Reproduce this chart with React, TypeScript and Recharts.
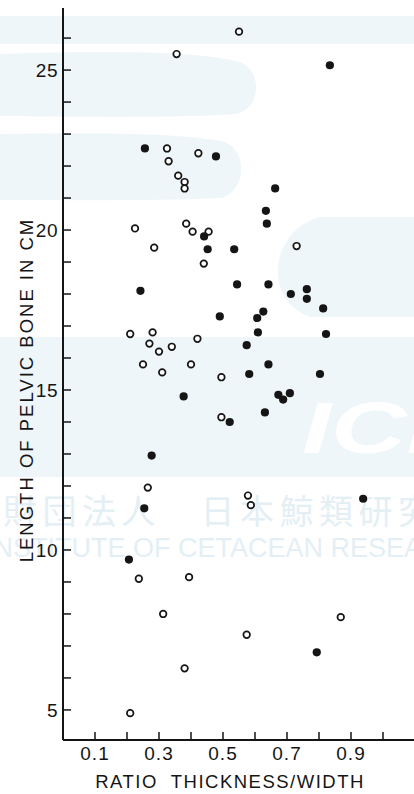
import React from 'react';
import { ScatterChart, Scatter, XAxis, YAxis, Label } from 'recharts';

// Open circles
const openRatio = [0.55, 0.355, 0.325, 0.423, 0.33, 0.36, 0.38, 0.38, 0.225, 0.385, 0.405, 0.455, 0.285, 0.44, 0.73, 0.21, 0.28, 0.27, 0.3, 0.34, 0.42, 0.25, 0.4, 0.31, 0.495, 0.495, 0.265, 0.578, 0.587, 0.237, 0.394, 0.313, 0.574, 0.38, 0.21, 0.868];
const openLength = [26.2, 25.5, 22.55, 22.4, 22.15, 21.7, 21.5, 21.3, 20.05, 20.2, 19.95, 19.95, 19.45, 18.95, 19.5, 16.75, 16.8, 16.45, 16.2, 16.35, 16.6, 15.8, 15.8, 15.55, 15.4, 14.15, 11.95, 11.7, 11.4, 9.1, 9.15, 8.0, 7.35, 6.3, 4.9, 7.9];

// Filled circles
const filledRatio = [0.834, 0.256, 0.478, 0.663, 0.634, 0.637, 0.441, 0.452, 0.535, 0.544, 0.642, 0.242, 0.712, 0.762, 0.762, 0.813, 0.49, 0.626, 0.607, 0.609, 0.822, 0.574, 0.642, 0.582, 0.803, 0.377, 0.673, 0.709, 0.688, 0.631, 0.521, 0.277, 0.254, 0.938, 0.206, 0.793];
const filledLength = [25.15, 22.55, 22.3, 21.3, 20.6, 20.2, 19.8, 19.4, 19.4, 18.3, 18.3, 18.1, 18.0, 18.15, 17.85, 17.55, 17.3, 17.45, 17.25, 16.8, 16.75, 16.4, 15.8, 15.5, 15.5, 14.8, 14.85, 14.9, 14.7, 14.3, 14.0, 12.95, 11.3, 11.6, 9.7, 6.8];

const xTicks = [0.1, 0.2, 0.3, 0.4, 0.5, 0.6, 0.7, 0.8, 0.9, 1.0];
const xTickLabels: Record<string, string> = { '0.1': '0.1', '0.3': '0.3', '0.5': '0.5', '0.7': '0.7', '0.9': '0.9' };
const yTicks = [5, 6, 7, 8, 9, 10, 11, 12, 13, 14, 15, 16, 17, 18, 19, 20, 21, 22, 23, 24, 25, 26];
const yTickLabels: Record<string, string> = { '5': '5', '10': '10', '15': '15', '20': '20', '25': '25' };

const xTitle = 'RATIO\u00a0 THICKNESS/WIDTH';
const yTitle = 'LENGTH OF PELVIC BONE IN CM';

const openData = openRatio.map((x, i) => ({ x, y: openLength[i] }));
const filledData = filledRatio.map((x, i) => ({ x, y: filledLength[i] }));

const FONT = "'Liberation Sans', Arial, Helvetica, sans-serif";
const INK = '#151515';

const OpenDot = (p: any) => (
  <circle cx={p.cx} cy={p.cy} r={3.3} fill="#fff" stroke={INK} strokeWidth={1.7} />
);
const FilledDot = (p: any) => <circle cx={p.cx} cy={p.cy} r={4.1} fill={INK} />;

const YTick = (props: any) => {
  const { x, y, payload } = props;
  const lab = yTickLabels[String(payload.value)];
  return (
    <g>
      <line x1={x} x2={x + 8} y1={y} y2={y} stroke={INK} strokeWidth={1.5} />
      {lab && (
        <text x={x - 5} y={y} dy="0.36em" textAnchor="end" fontSize={19} fill={INK} fontFamily={FONT} letterSpacing={0.5}>
          {lab}
        </text>
      )}
    </g>
  );
};

const XTick = (props: any) => {
  const { x, y, payload } = props;
  const lab = xTickLabels[payload.value.toFixed(1)];
  return (
    <g>
      <line x1={x} x2={x} y1={y} y2={y - 8} stroke={INK} strokeWidth={1.5} />
      {lab && (
        <text x={x} y={y + 20} textAnchor="middle" fontSize={19} fill={INK} fontFamily={FONT} letterSpacing={1}>
          {lab}
        </text>
      )}
    </g>
  );
};

const XTitle = (props: any) => {
  const vb = props.viewBox;
  return (
    <text x={vb.x + vb.width / 2 - 9} y={vb.y + vb.height - 6} textAnchor="middle" fontSize={18.5} fill={INK} fontFamily={FONT} letterSpacing={1.5}>
      {xTitle}
    </text>
  );
};

const YTitle = (props: any) => {
  const vb = props.viewBox;
  const cx = vb.x + 26;
  const cy = vb.y + 382;
  return (
    <text x={cx} y={cy} transform={`rotate(-90 ${cx} ${cy})`} dy="0.36em" textAnchor="middle" fontSize={18.5} fill={INK} fontFamily={FONT} letterSpacing={2}>
      {yTitle}
    </text>
  );
};

const WM = '#eef6fa';
const WM2 = '#e4eff5';

const Watermark = () => (
  <svg width={414} height={794} style={{ position: 'absolute', left: 0, top: 0 }}>
    <path d="M0 16 H414 V44 H0 Z" fill={WM} />
    <path d="M0 54 C120 50 200 52 240 62 C262 70 262 108 236 114 C180 118 80 117 0 116 Z" fill={WM} />
    <path d="M0 134 C110 132 190 134 225 142 C248 152 246 190 222 198 C160 201 70 200 0 200 Z" fill={WM} />
    <path d="M414 217 H320 C270 230 262 300 310 317 H414 Z" fill={WM} />
    <rect x={0} y={337} width={414} height={140} fill={WM} />
    <text transform="translate(302 453) scale(1.45 1)" x={0} y={0} fontSize={72} fontWeight={900} fontStyle="italic" fill="#fff" fontFamily={FONT}>ICR</text>
    <text x={3} y={524} fontSize={34} letterSpacing={5.5} fill={WM2} fontFamily="'Noto Sans CJK JP', sans-serif">財団法人　日本鯨類研究所</text>
    <text x={-14} y={557} fontSize={27} fill={WM2} fontFamily={FONT}>INSTITUTE OF CETACEAN RESEARCH</text>
  </svg>
);

export default function App() {
  return (
    <div style={{ position: 'absolute', left: 0, top: 0, width: 414, height: 794, overflow: 'hidden', background: '#fff' }}>
      <Watermark />
      <div style={{ position: 'absolute', left: 0, top: 0 }}>
        <ScatterChart width={430} height={794} margin={{ top: 8, right: 15, bottom: 0, left: 0 }}>
          <XAxis
            dataKey="x"
            type="number"
            domain={[0, 1.1]}
            ticks={xTicks}
            interval={0}
            height={54}
            tickSize={0}
            tickMargin={0}
            tickLine={false}
            tick={<XTick />}
            axisLine={{ stroke: INK, strokeWidth: 2 }}
            allowDataOverflow
          >
            <Label content={<XTitle />} />
          </XAxis>
          <XAxis
            xAxisId="top"
            orientation="top"
            type="number"
            domain={[0, 1.1]}
            height={0}
            tick={false}
            tickLine={false}
            axisLine={{ stroke: INK, strokeWidth: 2 }}
            allowDataOverflow
          />
          <YAxis
            dataKey="y"
            type="number"
            domain={[4.06, 26.94]}
            ticks={yTicks}
            interval={0}
            width={63}
            tickSize={0}
            tickMargin={0}
            tickLine={false}
            tick={<YTick />}
            axisLine={{ stroke: INK, strokeWidth: 2 }}
            allowDataOverflow
          >
            <Label content={<YTitle />} />
          </YAxis>
          <Scatter data={openData} shape={OpenDot} isAnimationActive={false} />
          <Scatter data={filledData} shape={FilledDot} isAnimationActive={false} />
        </ScatterChart>
      </div>
    </div>
  );
}
